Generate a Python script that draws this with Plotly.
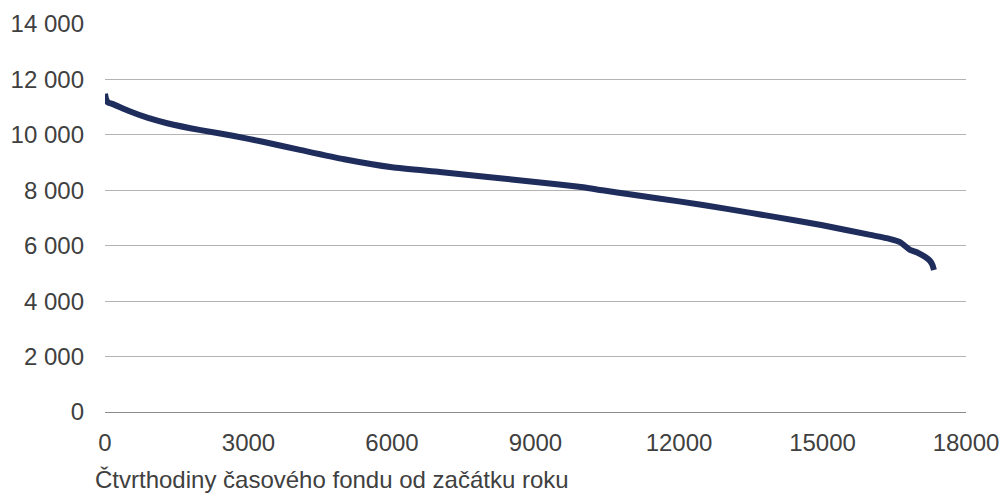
import plotly.graph_objects as go

# Quarter-hour index since the start of the year and the sorted load values
quarter_hours = [0, 20, 60, 150, 500, 900, 1300, 2000, 2700, 3300, 4100, 5000, 6000,
                 7000, 8000, 9000, 10000, 10400, 11000, 12000, 13000, 14000,
                 15000, 16000, 16400, 16620, 16830, 17000, 17150, 17250, 17300, 17330]
load_values = [11480, 11300, 11170, 11120, 10860, 10610, 10420, 10170, 9960, 9750, 9450,
               9120, 8830, 8660, 8480, 8300, 8110, 8000, 7850, 7600, 7330, 7040,
               6740, 6390, 6250, 6130, 5850, 5740, 5590, 5450, 5300, 5120]

x_tick_vals = [0, 3000, 6000, 9000, 12000, 15000, 18000]
x_tick_text = ["0", "3000", "6000", "9000", "12000", "15000", "18000"]
y_tick_vals = [0, 2000, 4000, 6000, 8000, 10000, 12000, 14000]
y_tick_text = ["0", "2 000", "4 000", "6 000", "8 000", "10 000", "12 000", "14 000"]

x_title = "Čtvrthodiny časového fondu od začátku roku"

font_family = "Liberation Sans, Arial, sans-serif"
text_color = "#404040"
font_size = 24

fig = go.Figure(
    go.Scatter(
        x=quarter_hours,
        y=load_values,
        mode="lines",
        line=dict(color="#1f2d5c", width=6, shape="spline", smoothing=0.5),
        hoverinfo="x+y",
    )
)

fig.update_layout(
    width=1002,
    height=497,
    margin=dict(l=105, r=36, t=24, b=85),
    paper_bgcolor="white",
    plot_bgcolor="white",
    showlegend=False,
    font=dict(family=font_family, size=font_size, color=text_color),
    xaxis=dict(
        range=[0, 18000],
        tickvals=x_tick_vals,
        ticktext=x_tick_text,
        showgrid=False,
        zeroline=False,
        showline=True,
        linecolor="#8c8c8c",
        linewidth=1,
        ticks="",
        ticklabelstandoff=9,
        automargin=False,
        tickfont=dict(size=font_size, color=text_color),
    ),
    yaxis=dict(
        range=[0, 14000],
        tickvals=y_tick_vals,
        ticktext=y_tick_text,
        showgrid=True,
        gridcolor="#b3b3b3",
        gridwidth=1,
        zeroline=False,
        showline=False,
        ticks="",
        ticklabelstandoff=20,
        automargin=False,
        tickfont=dict(size=font_size, color=text_color),
    ),
    annotations=[
        dict(
            text=x_title,
            xref="paper",
            yref="paper",
            x=-12 / 861,
            y=-67 / 388,
            xanchor="left",
            yanchor="middle",
            showarrow=False,
            font=dict(family=font_family, size=font_size, color=text_color),
        )
    ],
)

fig.write_html("out.html")
